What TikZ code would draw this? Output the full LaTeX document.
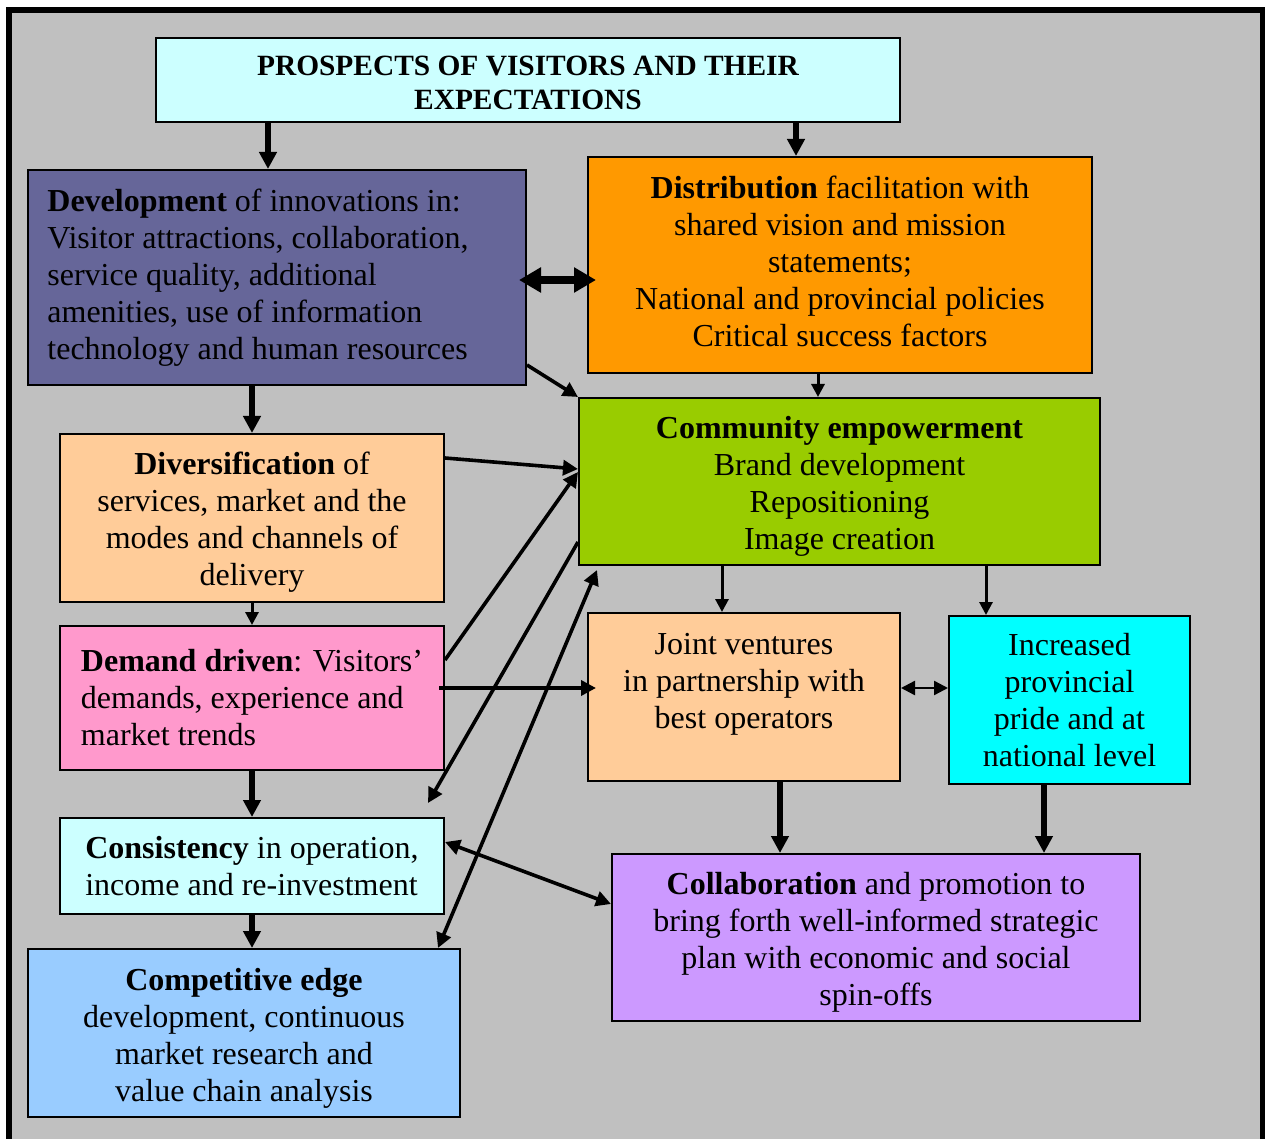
\documentclass[tikz,border=0pt]{standalone}
\usepackage{fontspec}
\setmainfont{Liberation Serif}
\usetikzlibrary{arrows.meta}
\definecolor{cTitle}{HTML}{CCFFFF}
\definecolor{cDev}{HTML}{666699}
\definecolor{cDist}{HTML}{FF9900}
\definecolor{cComm}{HTML}{99CC00}
\definecolor{cPeach}{HTML}{FFCC99}
\definecolor{cPink}{HTML}{FF99CC}
\definecolor{cCyan}{HTML}{00FFFF}
\definecolor{cLilac}{HTML}{CC99FF}
\definecolor{cBlue}{HTML}{99CCFF}
\definecolor{cBg}{HTML}{C0C0C0}
\begin{document}
\begin{tikzpicture}[x=0.5pt,y=-0.5pt,
  txt/.style={font=\fontsize{16}{18.5}\selectfont},
  box/.style={draw=black,line width=1pt,inner sep=0pt,align=center,txt},
  intext/.style={txt,align=center,inner sep=0pt,yshift=#1},
  arrA/.style={line width=3pt,-{Triangle[length=8.5pt,width=8.5pt]}},
  arrB/.style={line width=4pt,{Triangle[length=11pt,width=12pt]}-{Triangle[length=11pt,width=12pt]}},
  arrC/.style={line width=1.8pt,-{Triangle[length=7.5pt,width=7.5pt]}},
  arrCC/.style={line width=1.8pt,{Triangle[length=7.5pt,width=7.5pt]}-{Triangle[length=7.5pt,width=7.5pt]}},
  arrD/.style={line width=1.5pt,-{Triangle[length=6.5pt,width=6.5pt]}},
  arrDD/.style={line width=1.2pt,{Triangle[length=7pt,width=7pt]}-{Triangle[length=7pt,width=7pt]}}
]
\useasboundingbox (0,0) rectangle (1265,1139);
\fill[white] (0,0) rectangle (1265,1139);
\draw[line width=3pt,fill=cBg] (9,10) rectangle (1263,1170);

% boxes
\node[box,fill=cTitle,minimum width=372pt,minimum height=42pt,
  label={[intext=-1.5pt,font=\fontsize{14.7}{17}\selectfont\bfseries]center:{PROSPECTS OF VISITORS AND THEIR\\EXPECTATIONS}}] (title) at (528,80) {};
\node[box,fill=cDev,minimum width=249pt,minimum height=107.5pt] (dev) at (277,277.5) {};
\node[intext=0pt,align=left,anchor=west] (devtext) at ([xshift=10pt]dev.west)
  {\textbf{Development} of innovations in:\\Visitor attractions, collaboration,\\service quality, additional\\amenities, use of information\\technology and human resources};
\node[box,fill=cDist,minimum width=252pt,minimum height=108pt,
  label={[intext=2pt]center:{\textbf{Distribution} facilitation with\\shared vision and mission\\statements;\\National and provincial policies\\Critical success factors}}] (dist) at (840,265) {};
\node[box,fill=cComm,minimum width=260.5pt,minimum height=83.5pt,
  label={[intext=-2.25pt]center:{\textbf{Community empowerment}\\Brand development\\Repositioning\\Image creation}}] (comm) at (839.5,481.5) {};
\node[box,fill=cPeach,minimum width=192pt,minimum height=84pt,
  label={[intext=-2pt]center:{\textbf{Diversification} of\\services, market and the\\modes and channels of\\delivery}}] (div) at (252,518) {};
\node[box,align=left,fill=cPink,minimum width=192pt,minimum height=72pt] (dem) at (252,698)
  {\textbf{Demand driven}: Visitors’\\demands, experience and\\market trends};
\node[box,fill=cPeach,minimum width=156pt,minimum height=84pt,
  label={[intext=6.5pt]center:{Joint ventures\\in partnership with\\best operators}}] (joint) at (744,697) {};
\node[box,fill=cCyan,minimum width=120.5pt,minimum height=84pt] (incr) at (1069.5,700)
  {Increased\\provincial\\pride and at\\national level};
\node[box,align=left,fill=cTitle,minimum width=192pt,minimum height=48pt] (cons) at (252,866)
  {\textbf{Consistency} in operation,\\income and re-investment};
\node[box,fill=cLilac,minimum width=264pt,minimum height=83.5pt,
  label={[intext=-2.5pt]center:{\textbf{Collaboration} and promotion to\\bring forth well-informed strategic\\plan with economic and social\\spin-offs}}] (collab) at (876,937.5) {};
\node[box,fill=cBlue,minimum width=216pt,minimum height=84pt,
  label={[intext=-2.5pt]center:{\textbf{Competitive edge}\\development, continuous\\market research and\\value chain analysis}}] (comp) at (244,1033) {};

\coordinate (consTip) at (428,803);
\coordinate (commTip) at (597,570);

% connectors
\draw[arrA] (title.south -| 268,0) -- (dev.north -| 268,0);
\draw[arrA] (title.south -| 796,0) -- (dist.north -| 796,0);
\draw[arrB,shorten <=-4pt,shorten >=-4.5pt] (dev.east |- 0,280) -- (dist.west |- 0,280);
\draw[arrC] (dev.east |- 0,365) -- (comm.north west);
\draw[arrD] (dist.south -| 818,0) -- (comm.north -| 818,0);
\draw[arrA] (dev.south -| 252,0) -- (div.north -| 252,0);
\draw[arrC] (div.east |- 0,458) -- (comm.west |- 0,469);
\draw[arrC] (dem.east |- 0,660) -- (comm.west |- 0,472);
\draw[arrC] (comm.west |- 0,542) -- (consTip);
\draw[arrCC] (comp.north -| 438,0) -- (commTip);
\draw[arrC,shorten >=-4.5pt] (438,688 -| dem.east) ++(-6,0) -- (joint.west |- 0,688);
\draw[arrD] (comm.south -| 722,0) -- (joint.north -| 722,0);
\draw[arrD] (comm.south -| 986,0) -- (incr.north -| 986,0);
\draw[arrDD] (joint.east |- 0,688) -- (incr.west |- 0,688);
\draw[arrA] (joint.south -| 780,0) -- (collab.north -| 780,0);
\draw[arrA] (incr.south -| 1044,0) -- (collab.north -| 1044,0);
\draw[arrD] (div.south -| 252,0) -- (dem.north -| 252,0);
\draw[arrA] (dem.south -| 252,0) -- (cons.north -| 252,0);
\draw[arrA] (cons.south -| 252,0) -- (comp.north -| 252,0);
\draw[arrCC] (cons.east |- 0,842) -- (collab.west |- 0,904);
\end{tikzpicture}
\end{document}
